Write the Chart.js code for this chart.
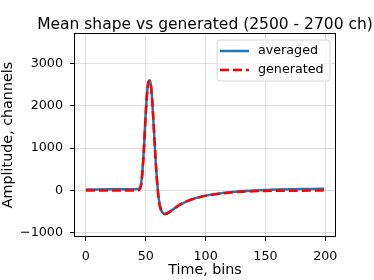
<!DOCTYPE html>
<html>
<head>
<meta charset="utf-8">
<script src="https://cdn.jsdelivr.net/npm/chart.js@4.4.1/dist/chart.umd.min.js"></script>
<style>
html,body{margin:0;padding:0;background:#fff;}
#wrap{width:374px;height:280px;}
</style>
</head>
<body>
<div id="wrap"><canvas id="c" width="374" height="280"></canvas></div>
<script>
const titleText = "Mean shape vs generated (2500 - 2700 ch)";
const xLabel = "Time, bins";
const yLabel = "Amplitude, channels";
const seriesNames = ["averaged", "generated"];
const xTicks = [0, 50, 100, 150, 200];
const yTicks = [-1000, 0, 1000, 2000, 3000];
const bins = [0,10,20,30,40,43,44,45,46,47,48,49,50,51,52,53,54,55,56,57,58,59,60,61,62,63,64,65,66,67,68,70,72,75,78,82,86,90,95,100,110,120,130,140,150,160,170,180,190,199];
const averaged = [25,25,26,28,30,32,38,60,140,380,780,1280,1820,2260,2520,2590,2540,2280,1840,1340,840,400,40,-220,-380,-470,-520,-545,-555,-552,-540,-505,-465,-405,-345,-285,-235,-195,-155,-122,-75,-42,-18,-2,10,20,27,32,36,40];
const generated = [0,0,0,0,0,2,8,30,110,350,760,1270,1820,2270,2530,2600,2550,2290,1850,1340,830,380,20,-240,-400,-485,-530,-550,-558,-553,-540,-505,-465,-405,-345,-288,-240,-200,-160,-128,-82,-52,-32,-20,-12,-8,-6,-5,-4,-4];

const FONT = "'DejaVu Sans', sans-serif";
const toPts = (ys) => bins.map((b, i) => ({x: b, y: ys[i]}));

const frameAndLegend = {
  id: 'frameAndLegend',
  afterDraw(chart) {
    const {ctx, chartArea: a} = chart;
    ctx.save();
    // title
    ctx.fillStyle = '#000';
    ctx.font = '15.5px ' + FONT;
    ctx.textAlign = 'center';
    ctx.textBaseline = 'alphabetic';
    ctx.fillText(titleText, (a.left + a.right) / 2, 29);
    // frame
    ctx.strokeStyle = '#000';
    ctx.lineWidth = 1;
    ctx.strokeRect(Math.round(a.left) + 0.5, Math.round(a.top) + 0.5, Math.round(a.right - a.left) - 1, Math.round(a.bottom - a.top) - 1);
    // legend
    const lx = 217, ly = 40, lw = 113, lh = 41, r = 3;
    ctx.beginPath();
    ctx.moveTo(lx + r, ly);
    ctx.arcTo(lx + lw, ly, lx + lw, ly + lh, r);
    ctx.arcTo(lx + lw, ly + lh, lx, ly + lh, r);
    ctx.arcTo(lx, ly + lh, lx, ly, r);
    ctx.arcTo(lx, ly, lx + lw, ly, r);
    ctx.closePath();
    ctx.fillStyle = 'rgba(255,255,255,0.8)';
    ctx.fill();
    ctx.strokeStyle = '#d6d6d6';
    ctx.lineWidth = 1;
    ctx.stroke();
    const ds = chart.data.datasets;
    const rows = [51, 70];
    ds.forEach((d, i) => {
      ctx.beginPath();
      ctx.setLineDash(d.borderDash || []);
      ctx.strokeStyle = d.borderColor;
      ctx.lineWidth = d.borderWidth;
      ctx.moveTo(220, rows[i]);
      ctx.lineTo(249, rows[i]);
      ctx.stroke();
      ctx.setLineDash([]);
      ctx.fillStyle = '#000';
      ctx.font = '12.7px ' + FONT;
      ctx.textBaseline = 'middle';
      ctx.textAlign = 'left';
      ctx.fillText(d.label, 258, rows[i]);
    });
    ctx.restore();
  }
};

new Chart(document.getElementById('c'), {
  type: 'line',
  data: {
    datasets: [
      {label: seriesNames[0], data: toPts(averaged), borderColor: '#1f77b4', borderWidth: 2.5, pointRadius: 0, fill: false, cubicInterpolationMode: 'monotone', order: 1},
      {label: seriesNames[1], data: toPts(generated), borderColor: '#ff0000', borderWidth: 2.5, borderDash: [9, 4], pointRadius: 0, fill: false, cubicInterpolationMode: 'monotone', order: 0}
    ]
  },
  options: {
    responsive: false,
    animation: false,
    devicePixelRatio: 1,
    layout: {padding: {top: 33, right: 38, bottom: 0, left: 0}},
    plugins: {
      legend: {display: false},
      tooltip: {enabled: false},
      title: {display: false}
    },
    scales: {
      x: {
        type: 'linear', min: -9.95, max: 208.95,
        afterBuildTicks: s => { s.ticks = xTicks.map(v => ({value: v})); },
        afterFit: s => { s.height = 43; },
        grid: {color: 'rgba(176,176,176,0.4)', lineWidth: 1, tickColor: '#000', tickLength: 4, tickWidth: 1},
        border: {display: false},
        ticks: {color: '#000', font: {family: FONT, size: 12.7}, padding: 8, maxRotation: 0, autoSkip: false},
        title: {display: true, text: xLabel, color: '#000', font: {family: FONT, size: 14.3}, padding: {top: 0, bottom: 1.4}}
      },
      y: {
        type: 'linear', min: -1100, max: 3720,
        afterBuildTicks: s => { s.ticks = yTicks.map(v => ({value: v})); },
        afterFit: s => { s.width = 74; },
        grid: {color: 'rgba(176,176,176,0.4)', lineWidth: 1, tickColor: '#000', tickLength: 4, tickWidth: 1},
        border: {display: false},
        ticks: {color: '#000', font: {family: FONT, size: 12.7}, padding: 7, autoSkip: false,
          callback: v => (v < 0 ? '\u2212' + Math.abs(v) : String(v))},
        title: {display: true, text: yLabel, color: '#000', font: {family: FONT, size: 14.3}, padding: {top: 0, bottom: 0}}
      }
    }
  },
  plugins: [frameAndLegend]
});
</script>
</body>
</html>
